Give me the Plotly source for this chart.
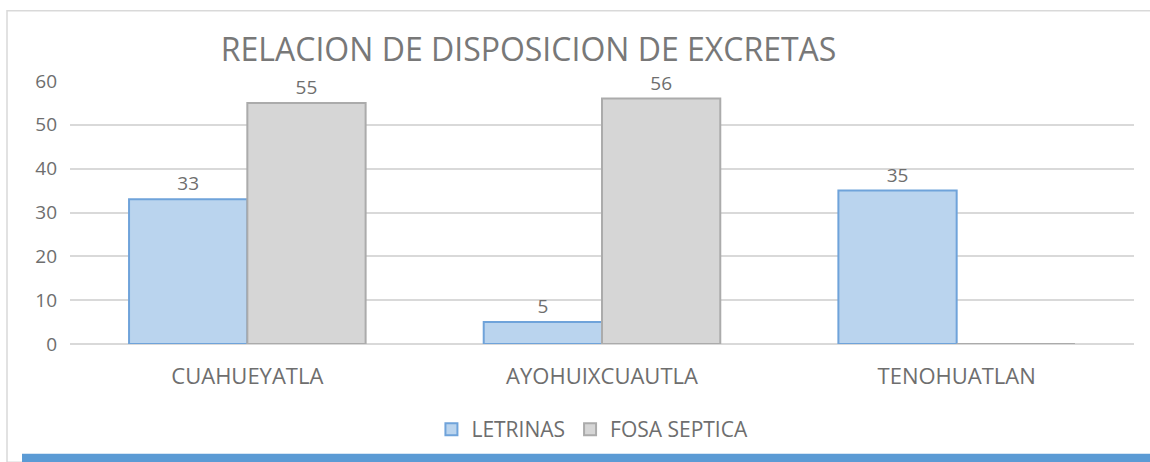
import plotly.graph_objects as go

categories = ["CUAHUEYATLA", "AYOHUIXCUAUTLA", "TENOHUATLAN"]
letrinas = [33, 5, 35]
fosa_septica = [55, 56, 0]
series_names = ["LETRINAS", "FOSA SEPTICA"]
y_ticks = [0, 10, 20, 30, 40, 50, 60]

FONT = "Open Sans"
TEXT_GREY = "#6E6E6E"

fig = go.Figure()
fig.add_trace(go.Bar(
    x=categories, y=letrinas, name=series_names[0],
    marker=dict(color="#BAD4EE", line=dict(color="#6FA3DA", width=2)),
    text=[str(v) for v in letrinas], textposition="outside", cliponaxis=False,
    textfont=dict(size=19, color=TEXT_GREY, family=FONT),
))
fig.add_trace(go.Bar(
    x=categories, y=fosa_septica, name=series_names[1],
    marker=dict(color="#D6D6D6", line=dict(color="#ABABAB", width=2)),
    text=[str(v) if v else "" for v in fosa_septica], textposition="outside", cliponaxis=False,
    textfont=dict(size=19, color=TEXT_GREY, family=FONT),
))

fig.update_layout(
    width=1150, height=462,
    margin=dict(l=70, r=16, t=81, b=115),
    paper_bgcolor="white", plot_bgcolor="white",
    barmode="group", bargap=0.333, bargroupgap=0,
    font=dict(family=FONT, color=TEXT_GREY),
    title=dict(
        text="RELACION DE DISPOSICION DE EXCRETAS",
        font=dict(size=32, color="#787878", family=FONT),
        xref="paper", x=0.431, xanchor="center",
        yref="container", y=0.892, yanchor="middle",
    ),
    xaxis=dict(
        showgrid=False, showline=False, zeroline=False,
        tickfont=dict(size=22, color=TEXT_GREY), ticklabelstandoff=17,
    ),
    yaxis=dict(
        range=[0, 60], tickvals=y_ticks, showgrid=True, gridcolor="#D9D9D9", gridwidth=1.5,
        zeroline=True, zerolinecolor="#D9D9D9", zerolinewidth=1.5, showline=False,
        tickfont=dict(size=19, color=TEXT_GREY), ticklabelstandoff=12,
    ),
    legend=dict(
        orientation="h", x=0.491, xanchor="center", y=-0.325, yanchor="middle",
        font=dict(size=21, color=TEXT_GREY), itemwidth=30, traceorder="normal",
    ),
    showlegend=True,
    shapes=[
        dict(type="rect", xref="paper", yref="paper",
             x0=-0.0592, x1=1.02, y0=-0.45, y1=1.267,
             line=dict(color="#D9D9D9", width=1.5), fillcolor="rgba(0,0,0,0)", layer="below"),
        dict(type="rect", xref="paper", yref="paper",
             x0=-0.0451, x1=1.02, y0=-0.45, y1=-0.417,
             line=dict(width=0), fillcolor="#5B9BD5"),
    ],
)

fig.write_html(
    "out.html",
    config={"displayModeBar": False},
    post_script="document.body.style.margin='0';document.body.style.overflow='hidden';",
)
